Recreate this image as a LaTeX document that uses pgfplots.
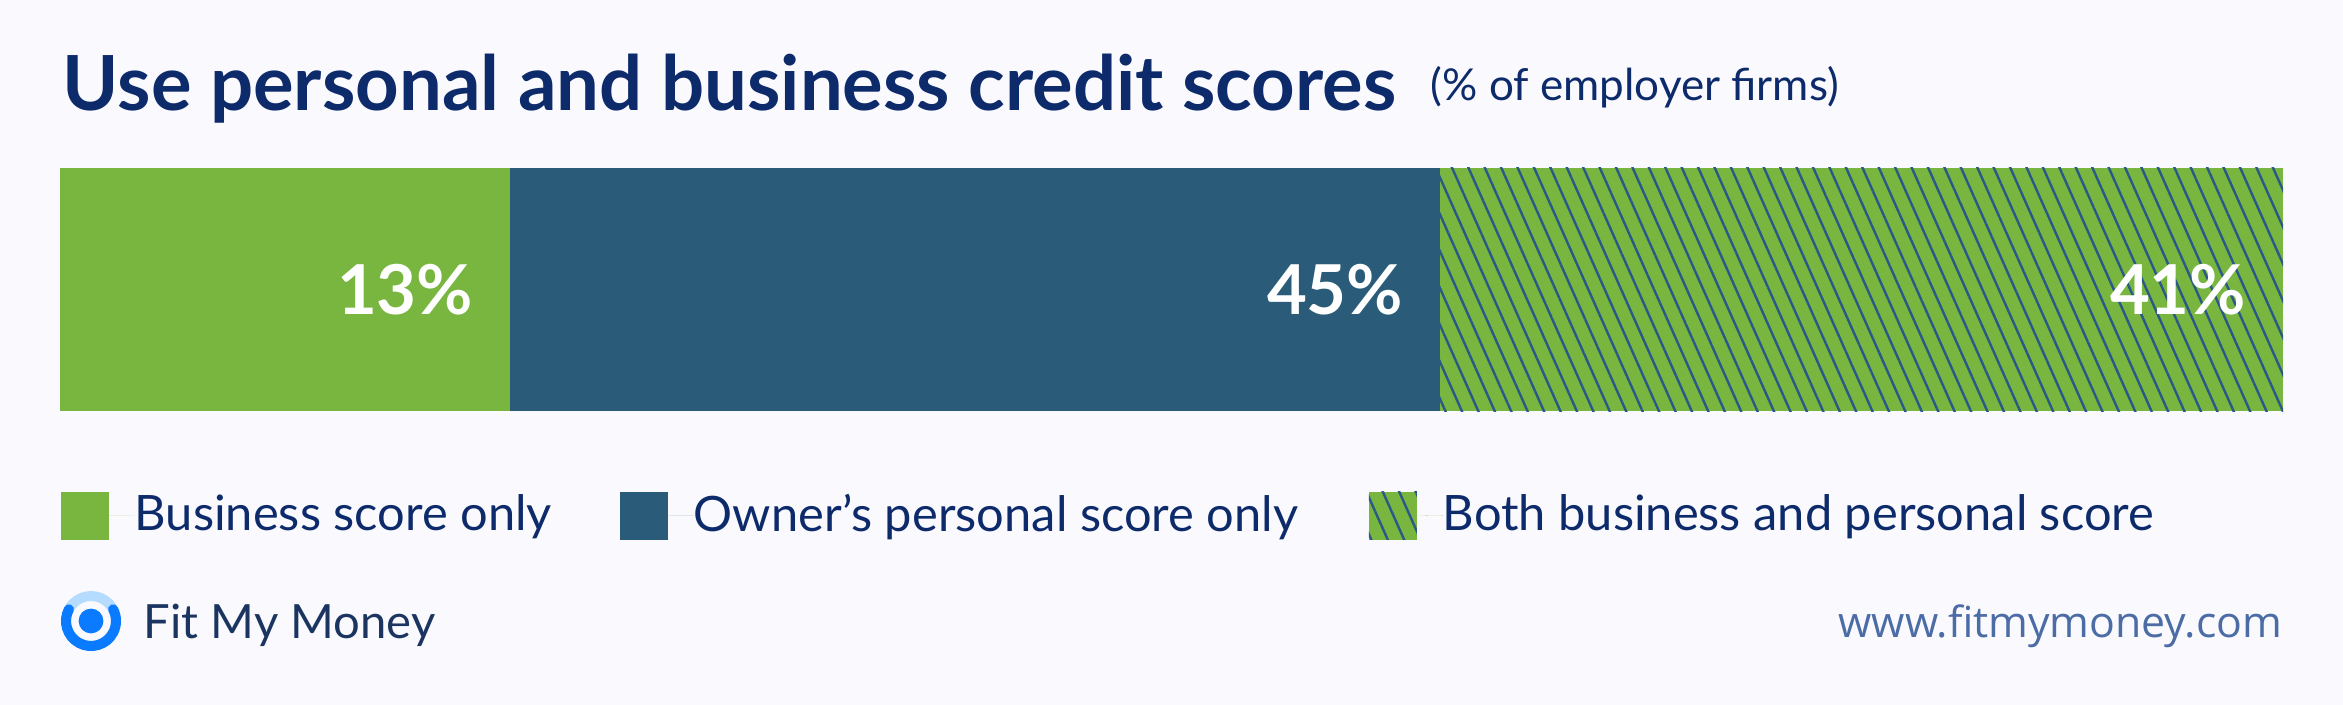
\documentclass[border=0pt]{standalone}
\usepackage{pgfplots}
\pgfplotsset{compat=1.18}
\usetikzlibrary{patterns.meta}
\usepackage{fontspec}
\setmainfont{Lato}
\newfontfamily\urlfont{Open Sans}

\definecolor{bg}{HTML}{FAFAFE}
\definecolor{bizgreen}{HTML}{78B640}
\definecolor{ownerblue}{HTML}{2A5C79}
\definecolor{hatchblue}{HTML}{2B5987}
\definecolor{navy}{HTML}{0D2A6B}
\definecolor{logoblue}{HTML}{0A7BFF}
\definecolor{logolight}{HTML}{B5DCFF}
\definecolor{logotext}{HTML}{1B3560}
\definecolor{urlcol}{HTML}{4C6CA6}

\pgfplotsset{
  hatched/.style={fill=bizgreen, draw=none,
    postaction={pattern={Lines[angle=-66,distance=3.75pt,line width=0.6pt]}, pattern color=hatchblue}},
}

\begin{document}
\begin{tikzpicture}
\fill[bg] (0,0) rectangle (585.75pt,-176.25pt);

% title and subtitle
\node[anchor=base west, inner sep=0, text=navy, font=\fontsize{19}{21}\selectfont\bfseries]
  at (15.5pt,-27.75pt) {Use personal and business credit scores};
\node[anchor=base west, inner sep=0, text=navy, font=\fontsize{11}{13}\selectfont]
  at (357.5pt,-25.25pt) {(\% of employer firms)};

% the bar in the picture is not to scale: segment lengths are as drawn
% (bar = 2223 units), the labels carry the printed shares
\begin{axis}[
  at={(15pt,-102.75pt)}, anchor=south west,
  scale only axis, width=555.75pt, height=60.75pt,
  xbar stacked, bar width=60.75pt,
  xmin=0, xmax=2223, ymin=-0.5, ymax=0.5,
  hide axis,
  point meta=explicit symbolic,
  nodes near coords={\pgfplotspointmeta\%},
  every node near coord/.append style={anchor=east, inner sep=0pt, text=white,
    font=\fontsize{17.2}{19}\selectfont\bfseries},
  legend columns=3,
  legend style={at={(0,-0.432)}, anchor=west, draw=none, fill=none, inner sep=0pt,
    nodes={inner sep=0pt, text=navy, font=\fontsize{12.2}{14}\selectfont},
    /tikz/every even column/.append style={column sep=18.25pt}},
  legend cell align=left,
  legend image code/.code={
    \path (0pt,0pt) -- (18.5pt,0pt);
    \path[#1, draw=none] (0pt,-6pt) rectangle (12pt,6pt);},
]
% labels sit at the middle of each segment: shift them to 9pt before its end
\addplot[fill=bizgreen, draw=none,
  every node near coord/.append style={xshift=47.25pt}] coordinates {(450,0) [13]};
\addlegendentry{\makebox[103pt][l]{Business score only}}
\addplot[fill=ownerblue, draw=none,
  every node near coord/.append style={xshift=107.25pt}] coordinates {(930,0) [45]};
\addlegendentry{\makebox[150.5pt][l]{Owner’s personal score only}}
\addplot[hatched,
  every node near coord/.append style={xshift=96.375pt}] coordinates {(843,0) [41]};
\addlegendentry{Both business and personal score}
\end{axis}

% logo
\draw[logolight, line width=2.5pt] (22.75pt,-155.25pt) circle[radius=6.25pt];
\draw[logoblue, line width=2.5pt, line cap=round] (22.75pt,-155.25pt) ++(152:6.25pt)
  arc[start angle=152, end angle=388, radius=6.25pt];
\fill[logoblue] (22.75pt,-155.25pt) circle[radius=3.1pt];
\node[anchor=base west, inner sep=0, text=logotext, font=\fontsize{11.8}{14}\selectfont]
  at (35.75pt,-159.5pt) {Fit My Money};
\node[anchor=base east, inner sep=0, text=urlcol, font=\urlfont\fontsize{10.7}{13}\selectfont]
  at (570.75pt,-159.25pt) {www.fitmymoney.com};

\pgfresetboundingbox
\path (0,0) rectangle (585.75pt,-176.25pt);
\end{tikzpicture}
\end{document}
